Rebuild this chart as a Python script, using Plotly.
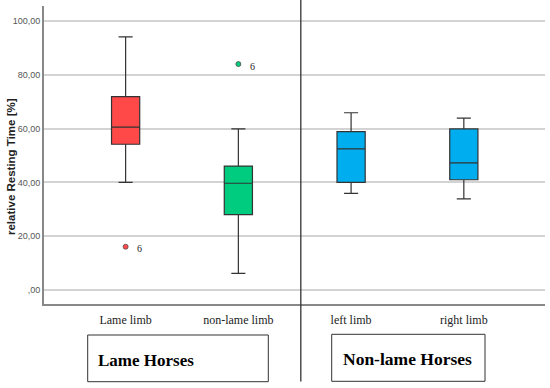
import plotly.graph_objects as go

categories = ["Lame limb", "non-lame limb", "left limb", "right limb"]
q1 = [54.2, 28.0, 40.0, 41.0]
median = [60.6, 39.7, 52.5, 47.3]
q3 = [71.9, 46.1, 58.9, 59.9]
lower_whisker = [40.0, 6.2, 35.9, 33.9]
upper_whisker = [94.1, 59.9, 65.9, 63.9]
colors = ["#FF4848", "#00CC80", "#00AEEF", "#00AEEF"]

outlier_cat = ["Lame limb", "non-lame limb"]
outlier_val = [16.1, 84.0]
outlier_label = ["6", "6"]
outlier_colors = ["#FF4848", "#00CC80"]

tick_vals = [0, 20, 40, 60, 80, 100]
tick_text = [",00", "20,00", "40,00", "60,00", "80,00", "100,00"]

group_labels = ["Lame Horses", "Non-lame Horses"]
y_title = "relative Resting Time [%]"

fig = go.Figure()
for i, c in enumerate(categories):
    fig.add_trace(go.Box(
        x=[c], q1=[q1[i]], median=[median[i]], q3=[q3[i]],
        lowerfence=[lower_whisker[i]], upperfence=[upper_whisker[i]],
        fillcolor=colors[i], line=dict(color="#333333", width=1.2),
        width=0.25, whiskerwidth=0.5, boxpoints=False, showlegend=False,
        hoverinfo="skip",
    ))

fig.add_trace(go.Scatter(
    x=outlier_cat, y=outlier_val, mode="markers",
    marker=dict(color=outlier_colors, size=5, line=dict(color="#505050", width=0.8)),
    showlegend=False, hoverinfo="skip",
))
for c, v, t in zip(outlier_cat, outlier_val, outlier_label):
    fig.add_annotation(x=c, y=v, text=t, showarrow=False, xshift=14, yshift=-2,
                       font=dict(family="Liberation Serif", size=10, color="#222"))

# separator line
fig.add_shape(type="line", xref="x", yref="paper", x0=1.554, x1=1.554, y0=-0.26, y1=1.03,
              line=dict(color="#333333", width=1.3))

pl, pr, pt, pb = 44, 545, 6, 304
W, H = 550, 388


def px(x):
    return (x - pl) / (pr - pl)


def py(y):
    return (pb - y) / (pb - pt)


# group boxes
boxes = [(87.7, 268.3, 335, 381.7), (331.7, 485, 334.3, 381.3)]
for (x0, x1, y0, y1) in boxes:
    fig.add_shape(type="rect", xref="paper", yref="paper", x0=px(x0), x1=px(x1), y0=py(y1), y1=py(y0),
                  line=dict(color="#333333", width=1), fillcolor="white")

fig.add_annotation(xref="paper", yref="paper", x=px(96), xanchor="left",
                   y=py(360), yanchor="middle", text="<b>" + group_labels[0] + "</b>",
                   showarrow=False, font=dict(family="Liberation Serif", size=17, color="black"))
fig.add_annotation(xref="paper", yref="paper", x=px(407), xanchor="center",
                   y=py(358.5), yanchor="middle", text="<b>" + group_labels[1] + "</b>",
                   showarrow=False, font=dict(family="Liberation Serif", size=17.5, color="black"))

# y-axis title
fig.add_annotation(xref="paper", yref="paper", x=px(11), xanchor="center",
                   y=py(167), yanchor="middle", text="<b>" + y_title + "</b>", textangle=-90,
                   showarrow=False, font=dict(family="Liberation Sans", size=11.5, color="#222"))

fig.update_layout(
    width=W, height=H, plot_bgcolor="white", paper_bgcolor="white",
    margin=dict(l=pl, r=W - pr, t=pt, b=H - pb),
    xaxis=dict(type="category", categoryorder="array", categoryarray=categories,
               range=[-0.724, 3.72], showgrid=False, showline=True, linecolor="#888888",
               linewidth=2, ticks="", tickfont=dict(family="Liberation Serif", size=12, color="#222"),
               ticklabelstandoff=4, zeroline=False, automargin=False),
    yaxis=dict(range=[-5.2, 105.6], tickvals=tick_vals, ticktext=tick_text,
               showgrid=True, gridcolor="#D3D3D3", gridwidth=1.5, showline=True,
               linecolor="#888888", linewidth=2, zeroline=False, ticks="", automargin=False,
               tickfont=dict(family="Liberation Sans", size=9, color="#555555")),
)

fig.write_html("out.html", config={"displayModeBar": False},
               post_script="document.body.style.margin='0';document.body.style.overflow='hidden';")
